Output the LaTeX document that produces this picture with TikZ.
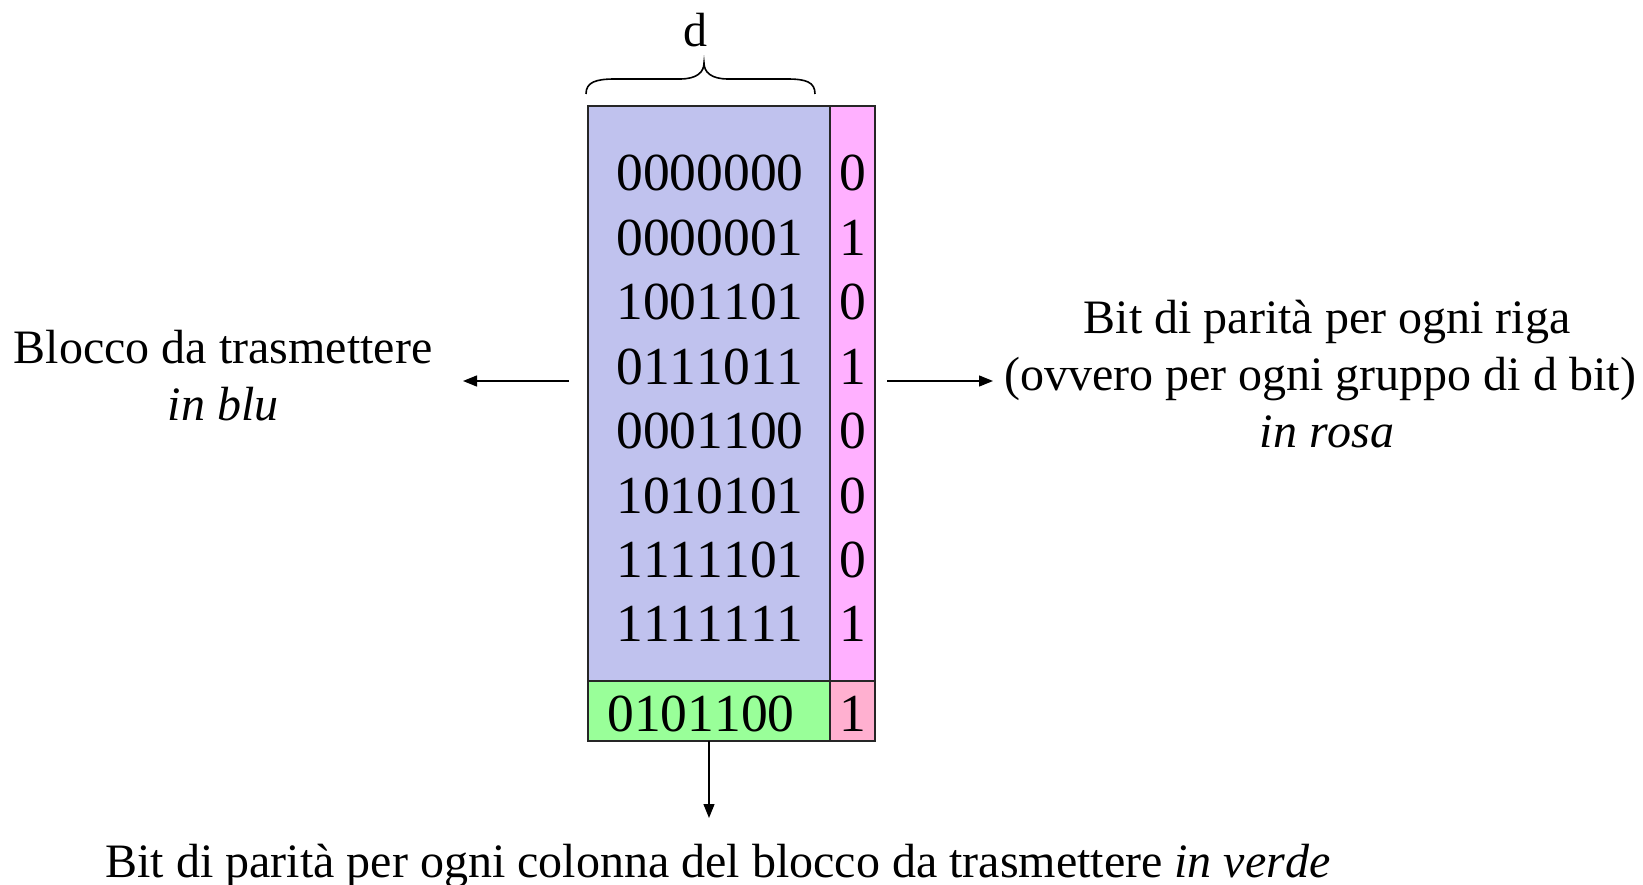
\documentclass[tikz,border=0pt]{standalone}
\usepackage{fontspec}
\setmainfont{Liberation Serif}[Kerning=Off]
\usetikzlibrary{arrows.meta,calc}
\definecolor{blublk}{HTML}{C0C2EE}
\definecolor{rosa}{HTML}{FFB0FF}
\definecolor{verde}{HTML}{99FF99}
\definecolor{rosso}{HTML}{FFB0D0}
\begin{document}
\begin{tikzpicture}[x=1pt,y=-1pt,
  cell/.style={draw=black!85,line width=1.6pt,inner sep=0pt,outer sep=0pt},
  dig/.style={font=\fontsize{53.5}{60}\selectfont,anchor=base,inner sep=0pt},
  lbl/.style={font=\fontsize{48}{56}\selectfont,anchor=base,inner sep=0pt},
  arr/.style={line width=1.3pt,-{Triangle[length=14pt,width=11pt]}}]
\useasboundingbox (0,0) rectangle (1643,885);
% blocks
\node[cell,fill=blublk,minimum width=242pt,minimum height=575pt] (blue) at (709,393.5) {};
\node[cell,fill=rosa,minimum width=45pt,minimum height=575pt] (pink) at (852.5,393.5) {};
\node[cell,fill=verde,minimum width=242pt,minimum height=60pt] (green) at (709,711) {};
\node[cell,fill=rosso,minimum width=45pt,minimum height=60pt] (red) at (852.5,711) {};
% rows
\foreach \b/\p [count=\i from 0] in {0000000/0,0000001/1,1001101/0,0111011/1,0001100/0,1010101/0,1111101/0,1111111/1}{
  \node[dig] (row\i) at (710,{191+64.4*\i}) {\b};
  \node[dig] (par\i) at (853,{191+64.4*\i}) {\p};
}
\node[dig] (gtext) at (701,731) {0101100};
\node[dig] (rtext) at (853,731) {1};
% brace and d
\node[lbl] (d) at (695,47) {d};
\draw[line width=1.6pt] (586,94) .. controls (586,82) and (596,79) .. (615,79) -- (680,79)
  .. controls (697,79) and (704,72) .. (704,63)
  .. controls (704,72) and (711,79) .. (728,79) -- (787,79)
  .. controls (806,79) and (815,82) .. (815,94);
% labels
\node[lbl] (blocco) at (223,363) {Blocco da trasmettere};
\node[lbl] (inblu) at (223,420) {\itshape in blu};
\node[lbl] (bit1) at (1327,333) {Bit di parità per ogni riga};
\node[lbl] (bit2) at (1320,390) {(ovvero per ogni gruppo di d bit)};
\node[lbl] (inrosa) at (1327,447) {\itshape in rosa};
\node[lbl] (bottom) at (718,877) {Bit di parità per ogni colonna del blocco da trasmettere \textit{in verde}};
% arrows
\coordinate (lA) at ($(blue.west)+(-19,-12.5)$);
\coordinate (lB) at (463,381);
\draw[arr] (lA) -- (lB);
\coordinate (rA) at ($(pink.east)+(12,-12.5)$);
\coordinate (rB) at (993,381);
\draw[arr] (rA) -- (rB);
\coordinate (dB) at (709,818);
\draw[arr] (green.south) -- (dB);
\end{tikzpicture}
\end{document}
